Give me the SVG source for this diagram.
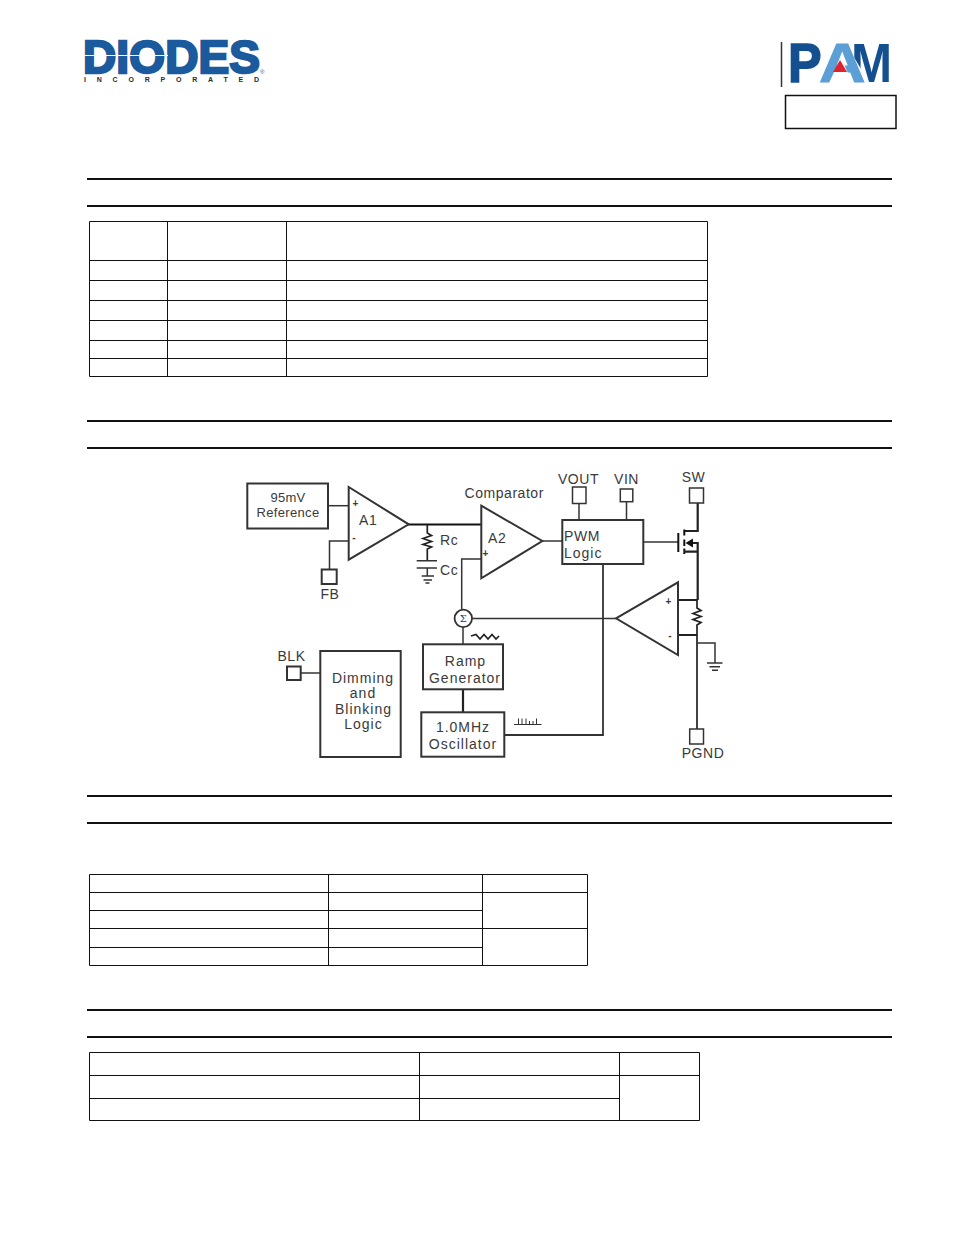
<svg xmlns="http://www.w3.org/2000/svg" width="954" height="1235" viewBox="0 0 954 1235">
<style>
text{font-family:"Liberation Sans",Arial,sans-serif;fill:#3a3a3a}
.t{font-size:14px;letter-spacing:.55px}
.w{letter-spacing:1px}
.c{text-anchor:middle}
.b{fill:#fff;stroke:#333;stroke-width:2}
.n{fill:none;stroke:#333;stroke-width:1.5}
.k{fill:none;stroke:#222;stroke-width:2.2}
.r{fill:none;stroke:#111;stroke-width:2}
.g{fill:none;stroke:#333;stroke-width:1}
.s{font-size:10px;font-weight:bold}
</style>
<rect width="954" height="1235" fill="#fff"/>

<g id="logo-diodes">
<text x="83" y="72.500" font-size="46" font-weight="bold" style="fill:#1b5a9c;stroke:#1b5a9c;stroke-width:2.4" textLength="177" lengthAdjust="spacing">DIODES</text>
<path d="M84 55.500H168" stroke="#fff" stroke-width="1.200" fill="none"/>
<text x="84" y="82" font-size="7" font-weight="bold" style="fill:#2a2a2a" textLength="175" lengthAdjust="spacing">INCORPORATED</text>
<text x="260" y="74" font-size="6" style="fill:#1b5a9c">®</text>
</g>

<g id="logo-pam">
<path d="M781.500 42V87" stroke="#333" stroke-width="1.500" fill="none"/>
<text transform="translate(788 82) scale(.9 1)" font-size="56" font-weight="bold" style="fill:#14508f;stroke:#14508f;stroke-width:1.500">P</text>
<text transform="translate(851 82) scale(.88 1)" font-size="56" font-weight="bold" style="fill:#14508f">M</text>
<polygon points="849,49 849,84 870,84" fill="#fff"/>
<text transform="translate(819 82) scale(1.15 1)" font-size="56" font-weight="bold" style="fill:#5b9fd6;stroke:#5b9fd6;stroke-width:1">A</text>
<polygon points="829,83 841,57 852,83" fill="#fff"/>
<polygon points="840,60 847,72 833,72" fill="#e0212e"/>
</g>
<rect id="part-box" x="785.500" y="95.500" width="110.500" height="33" fill="#fff" stroke="#111" stroke-width="1.500"/>

<g id="rules" stroke="#111" stroke-width="2" fill="none">
<path d="M87 179H892M87 206H892M87 421H892M87 448H892M87 796H892M87 823H892M87 1010H892M87 1037H892"/>
</g>

<g id="table-1" fill="none" stroke="#111" stroke-width="1">
<path d="M89.500 221.500H707.500V376.500H89.500ZM167.500 221.500V376.500M286.500 221.500V376.500M89.500 260.500H707.500M89.500 280.500H707.500M89.500 300.500H707.500M89.500 320.500H707.500M89.500 340.500H707.500M89.500 358.500H707.500"/>
</g>
<g id="table-2" fill="none" stroke="#111" stroke-width="1">
<path d="M89.500 874.500H587.500V965.500H89.500ZM328.500 874.500V965.500M482.500 874.500V965.500M89.500 892.500H587.500M89.500 910.500H482.500M89.500 928.500H587.500M89.500 947.500H482.500"/>
</g>
<g id="table-3" fill="none" stroke="#111" stroke-width="1">
<path d="M89.500 1052.500H699.500V1120.500H89.500ZM419.500 1052.500V1120.500M619.500 1052.500V1120.500M89.500 1075.500H699.500M89.500 1098.500H619.500"/>
</g>

<g id="connectors">
<path class="n" d="M328 505.700H348.500"/>
<path class="n" d="M348.500 541H329.500V569"/>
<path class="r" d="M408 524.500H482" stroke-width="2.400"/>
<path class="k" style="stroke-width:1.700" d="M427.300 524.500V533L431.500 535.500L423 538.500L431.500 541.500L423 544.500L431.500 547L427.300 549V560.700"/>
<path class="n" d="M416.700 560.700H437M416.700 568H437M427.300 568V576M421.700 576H434M423.500 580H432M425.500 583H429.500"/>
<path class="n" d="M481.300 559H461.700V610"/>
<path class="n" d="M542.300 541H562.300"/>
<path class="n" d="M579 503.500V520M626.500 501.500V520"/>
<path class="k" d="M697.700 503V531H684"/>
<path class="n" d="M643.300 542H678"/>
<path class="r" d="M678.300 533V552" stroke-width="2.200"/>
<path class="r" d="M684.300 529.500V535.500M684.300 539.500V546M684.300 548.500V554" stroke-width="1.800"/>
<path class="k" d="M684 551.700H697.700M691 543H697.700V600"/>
<polygon points="685.500,543 693,538.500 693,547.500" fill="#111"/>
<path class="n" style="stroke-width:1.800" d="M603 564V735H504.300"/>
<path class="n" d="M472 618.400H616"/>
<path class="k" style="stroke-width:1.800" d="M678 600H697.200M678 635H697.200"/>
<path class="k" style="stroke-width:1.700" d="M697 600V608L701 610.500L693 613.500L701 616.500L693 619.500L701 622.500L697 625V729"/>
<path class="n" d="M697 643H715V663M707 663H722.500M709.500 666.800H720M712 670.300H718"/>
<path class="n" d="M463 627V644.300"/>
<path class="k" d="M463 689.300V712.300"/>
<path class="n" d="M300.700 673H320.300"/>
<path class="k" style="stroke-width:1.700" d="M471 636L476 634.500L480 639L484 634.500L488 639L492 634.500L496 639L499 636"/>
<path class="g" d="M514 724.500H541.500M518.500 724.500V718.500M522 724.500V718.500M526 724.500V718.500M529.500 724.500V721M533 724.500V721M536.500 724.500V718.500"/>
</g>

<g id="node-reference"><rect class="b" x="247.300" y="483.500" width="80.700" height="45"/><text class="t c" x="288" y="502" style="font-size:13px;letter-spacing:.3px">95mV</text><text class="t c" x="288" y="517" style="font-size:13px;letter-spacing:.35px">Reference</text></g>
<g id="node-a1"><polygon class="b" points="348.700,487 408.700,524.300 348.700,559.700"/><text class="s c" x="355.500" y="507">+</text><text class="s c" x="354" y="541">-</text><text class="t" x="359" y="525">A1</text></g>
<g id="node-fb"><rect class="n" x="321.700" y="569.500" width="15" height="14.500" style="fill:#fff;stroke-width:2"/><text class="t c" x="330" y="598.500">FB</text></g>
<g id="label-rc"><text class="t" x="440" y="545">Rc</text></g>
<g id="label-cc"><text class="t" x="440" y="575">Cc</text></g>
<g id="node-a2"><polygon class="b" points="481.300,505.700 542.300,541 481.300,578.300"/><text class="s c" x="485.500" y="557">+</text><text class="t" x="488" y="542.500">A2</text><text class="t" x="464.500" y="498">Comparator</text></g>
<g id="node-pwm"><rect class="b" x="562.300" y="520" width="81" height="44"/><text class="t" x="564" y="541">PWM</text><text class="t w" x="564" y="558">Logic</text></g>
<g id="node-vout"><rect class="n" x="572.500" y="487" width="13.500" height="16.500" style="fill:#fff"/><text class="t c" x="578.500" y="484">VOUT</text></g>
<g id="node-vin"><rect class="n" x="620.300" y="489" width="12.500" height="12.700" style="fill:#fff"/><text class="t c" x="626.500" y="484">VIN</text></g>
<g id="node-sw"><rect class="n" x="689.500" y="488" width="14" height="15" style="fill:#fff"/><text class="t c" x="693.500" y="482">SW</text></g>
<g id="node-sum"><circle class="n" cx="463.300" cy="618.400" r="8.700" style="fill:#fff;stroke-width:1.800"/><text class="c" x="463.300" y="622" style="font-size:10px;font-family:'DejaVu Serif',serif">Σ</text></g>
<g id="node-csa"><polygon class="b" points="616,618.300 678,582.300 678,655"/><text class="s c" x="668.500" y="605">+</text><text class="s c" x="670" y="639">-</text></g>
<g id="node-pgnd"><rect class="n" x="689.700" y="729" width="13.800" height="15" style="fill:#fff"/><text class="t c" x="703" y="758">PGND</text></g>
<g id="node-ramp"><rect class="b" x="423" y="644.300" width="80" height="45"/><text class="t w c" x="465.500" y="666">Ramp</text><text class="t w c" x="465" y="683">Generator</text></g>
<g id="node-osc"><rect class="b" x="421.300" y="712.300" width="83" height="44.400"/><text class="t w c" x="463" y="732">1.0MHz</text><text class="t w c" x="463" y="749">Oscillator</text></g>
<g id="node-dimming"><rect class="b" x="320.300" y="651" width="80.400" height="106"/><text class="t w c" x="363" y="683">Dimming</text><text class="t w c" x="363" y="698">and</text><text class="t w c" x="363.500" y="714">Blinking</text><text class="t w c" x="363.500" y="729">Logic</text></g>
<g id="node-blk"><rect class="n" x="287" y="666.500" width="13.700" height="13.500" style="fill:#fff;stroke-width:2"/><text class="t c" x="291.500" y="661">BLK</text></g>
</svg>
